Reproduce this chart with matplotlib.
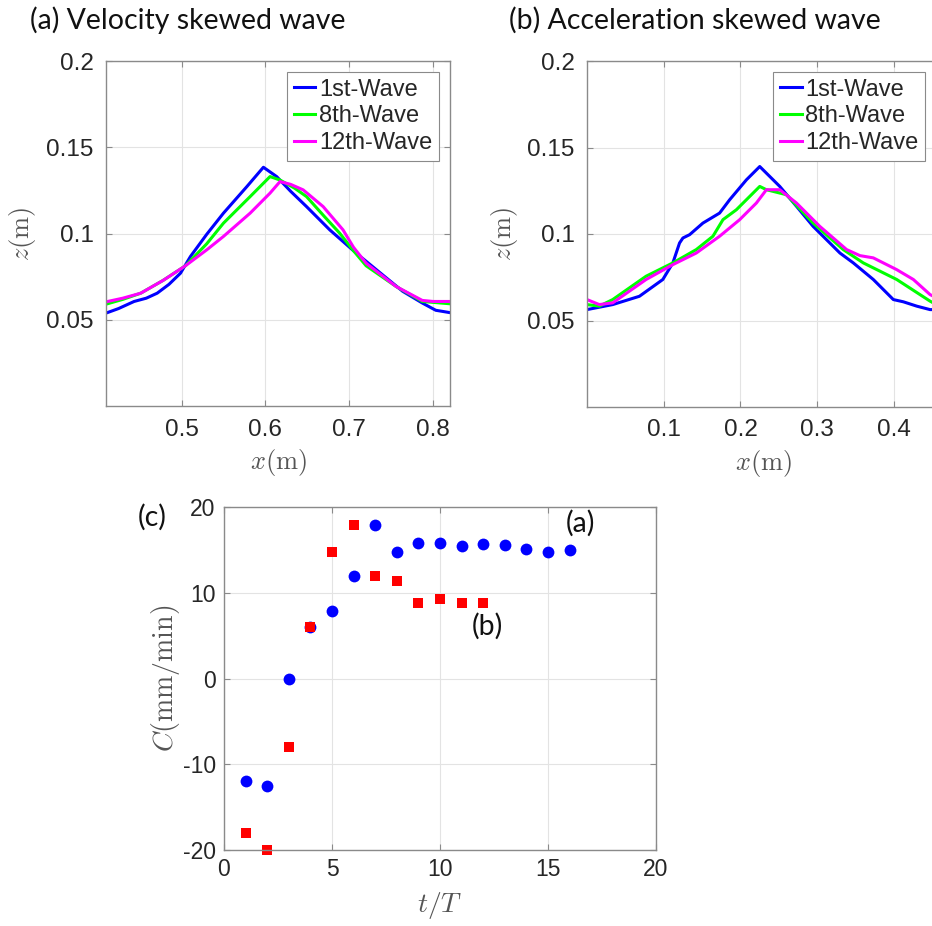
import matplotlib
matplotlib.use("Agg")
import matplotlib.pyplot as plt

plt.rcParams["mathtext.fontset"] = "cm"
plt.rcParams["axes.unicode_minus"] = False

# ---------------------------------------------------------------
# Data
# ---------------------------------------------------------------
labels = ["1st-Wave", "8th-Wave", "12th-Wave"]
colors = ["#0000ff", "#00ff00", "#ff00ff"]

# (a) velocity skewed wave
va_x1 = [0.412, 0.425, 0.4435, 0.458, 0.471, 0.485, 0.4988, 0.5107, 0.530,
         0.550, 0.5779, 0.5976, 0.6134, 0.630, 0.649, 0.6767, 0.7083, 0.736,
         0.7636, 0.787, 0.803, 0.819]
va_z1 = [0.0542, 0.0565, 0.0606, 0.0625, 0.0654, 0.0705, 0.077, 0.0867, 0.0995,
         0.1118, 0.1272, 0.1384, 0.133, 0.1245, 0.1156, 0.1021, 0.0886, 0.0775,
         0.0665, 0.0597, 0.0555, 0.0542]
va_x8 = [0.412, 0.430, 0.4514, 0.478, 0.5047, 0.530, 0.550, 0.5818, 0.6055,
         0.6174, 0.635, 0.649, 0.670, 0.6885, 0.705, 0.720, 0.7557, 0.787, 0.819]
va_z8 = [0.0593, 0.0618, 0.0654, 0.0728, 0.0813, 0.094, 0.106, 0.1214, 0.133,
         0.131, 0.1262, 0.1214, 0.110, 0.1002, 0.090, 0.0813, 0.0693, 0.0606,
         0.0593]
va_x12 = [0.412, 0.430, 0.4514, 0.478, 0.5047, 0.530, 0.550, 0.5818, 0.6055,
          0.6174, 0.630, 0.645, 0.6688, 0.6925, 0.705, 0.720, 0.7557, 0.787,
          0.800, 0.819]
va_z12 = [0.0606, 0.0625, 0.0654, 0.0728, 0.0813, 0.0905, 0.0983, 0.1118, 0.1234,
          0.1301, 0.1285, 0.1253, 0.1156, 0.1021, 0.092, 0.0828, 0.0693, 0.0612,
          0.0606, 0.0606]

# (b) acceleration skewed wave
ac_x1 = [0.0, 0.0335, 0.0683, 0.0988, 0.1119, 0.1206, 0.125, 0.1337, 0.151,
         0.1728, 0.1859, 0.2077, 0.2251, 0.2512, 0.273, 0.2947, 0.3296, 0.347,
         0.3731, 0.3992, 0.4123, 0.4297, 0.447, 0.46]
ac_z1 = [0.0563, 0.0592, 0.064, 0.0737, 0.0833, 0.0948, 0.0977, 0.0996, 0.1063,
         0.1121, 0.1198, 0.1313, 0.139, 0.1275, 0.116, 0.1044, 0.089, 0.0833,
         0.0737, 0.0621, 0.0608, 0.0583, 0.0563, 0.0563]
ac_x8 = [0.0, 0.016, 0.0335, 0.077, 0.1119, 0.1424, 0.1641, 0.1772, 0.1946,
         0.212, 0.2251, 0.2338, 0.2599, 0.2947, 0.3339, 0.36, 0.4036, 0.447, 0.46]
ac_z8 = [0.0592, 0.0583, 0.0621, 0.0756, 0.0833, 0.091, 0.0987, 0.1083, 0.114,
         0.1217, 0.1275, 0.1256, 0.1227, 0.1063, 0.091, 0.0833, 0.0737, 0.0612,
         0.058]
ac_x12 = [0.0, 0.016, 0.0335, 0.077, 0.1119, 0.1424, 0.1728, 0.199, 0.2207,
          0.2338, 0.2512, 0.273, 0.3034, 0.3383, 0.3557, 0.3731, 0.4036, 0.4253,
          0.447, 0.46]
ac_z12 = [0.0621, 0.0592, 0.0602, 0.0737, 0.0823, 0.089, 0.0987, 0.1083, 0.1179,
          0.1256, 0.1256, 0.1179, 0.1044, 0.091, 0.0875, 0.0862, 0.0794, 0.0737,
          0.065, 0.062]

# (c) migration rate vs wave number
t_a = [1, 2, 3, 4, 5, 6, 7, 8, 9, 10, 11, 12, 13, 14, 15, 16]
c_a = [-12.0, -12.5, 0.0, 6.0, 7.9, 11.9, 17.9, 14.8, 15.8, 15.8, 15.4, 15.7,
       15.6, 15.1, 14.8, 15.0]
t_b = [1, 2, 3, 4, 5, 6, 7, 8, 9, 10, 11, 12]
c_b = [-18.0, -20.0, -8.0, 6.0, 14.8, 17.9, 11.9, 11.4, 8.8, 9.3, 8.8, 8.8]

W, H = 932, 926
TICK = ["Liberation Sans", "DejaVu Sans"]
CAL = ["Lato", "DejaVu Sans"]
GREY = "#262626"


def style_axes(ax, size, pad):
    ax.grid(True, color="#e3e3e3", linewidth=0.8)
    ax.set_axisbelow(True)
    for s in ax.spines.values():
        s.set_color("#8a8a8a")
        s.set_linewidth(1.0)
    ax.tick_params(direction="in", length=4, width=0.8, color="#8a8a8a",
                   top=True, right=True, labelsize=size, labelcolor=GREY,
                   pad=pad)
    for lab in ax.get_xticklabels() + ax.get_yticklabels():
        lab.set_family(TICK)


def wave_panel(ax, series, xlim, xticks, axh):
    for (x, z), lab, col in zip(series, labels, colors):
        ax.plot(x, z, color=col, linewidth=2.2, label=lab)
    ax.set_xlim(*xlim)
    ax.set_ylim(0.0, 0.2)
    ax.set_xticks(xticks)
    ax.set_yticks([0.05, 0.1, 0.15, 0.2])
    ax.set_xticklabels([f"{v:g}" for v in xticks])
    ax.set_yticklabels(["0.05", "0.1", "0.15", "0.2"])
    style_axes(ax, 17.5, 9)
    ax.set_xlabel(r"$x(\mathrm{m})$", fontsize=19, color="#555555")
    ax.set_ylabel(r"$z(\mathrm{m})$", fontsize=19, color="#555555")
    ax.xaxis.set_label_coords(0.5, -41 / axh)
    leg = ax.legend(loc="upper right", fontsize=17, handlelength=0.9,
                    handletextpad=0.15, borderpad=0.3, labelspacing=0.2,
                    fancybox=False, framealpha=1, borderaxespad=0.45)
    leg.get_frame().set_edgecolor("#8a8a8a")
    leg.get_frame().set_linewidth(0.8)
    for t in leg.get_texts():
        t.set_family(TICK)
        t.set_color(GREY)


fig = plt.figure(figsize=(W / 100, H / 100), dpi=100)

# (a)
ax1 = fig.add_axes([106 / W, 1 - 406 / H, 344 / W, 345 / H])
wave_panel(ax1, [(va_x1, va_z1), (va_x8, va_z8), (va_x12, va_z12)],
           (0.41, 0.82), [0.5, 0.6, 0.7, 0.8], 345)
ax1.yaxis.set_label_coords(-68 / 344, 0.5)

# (b) - right part is cut off in the original
ax2 = fig.add_axes([587 / W, 1 - 407 / H, 353 / W, 346 / H])
wave_panel(ax2, [(ac_x1, ac_z1), (ac_x8, ac_z8), (ac_x12, ac_z12)],
           (0.0, 0.46), [0.1, 0.2, 0.3, 0.4], 346)
ax2.yaxis.set_label_coords(-67 / 353, 0.5)
ax2.get_legend().set_bbox_to_anchor((349 / 353, 1.0))

fig.text(30 / W, 1 - 20 / H, "(a) Velocity skewed wave", family=CAL,
         fontsize=20.5, va="center", ha="left", color="#111111")
fig.text(509 / W, 1 - 20 / H, "(b) Acceleration skewed wave", family=CAL,
         fontsize=20.5, va="center", ha="left", color="#111111")

# (c)
ax3 = fig.add_axes([224 / W, 1 - 850 / H, 432 / W, 343 / H])
ax3.plot(t_a, c_a, "o", color="#0000ff", markersize=8.5, markeredgewidth=0)
ax3.plot(t_b, c_b, "s", color="#ff0000", markersize=6.5, markeredgewidth=0,
         clip_on=False)
ax3.set_xlim(0, 20)
ax3.set_ylim(-20, 20)
ax3.set_xticks([0, 5, 10, 15, 20])
ax3.set_yticks([-20, -10, 0, 10, 20])
style_axes(ax3, 16.5, 6)
ax3.set_xlabel(r"$t/T$", fontsize=20, color="#555555")
ax3.set_ylabel(r"$C(\mathrm{mm/min})$", fontsize=20, color="#555555")
ax3.xaxis.set_label_coords(0.5, -40 / 343)
ax3.yaxis.set_label_coords(-42 / 432, 0.5)
ax3.text(16.5, 18.1, "(a)", family=CAL, fontsize=20.5, ha="center",
         va="center", color="#111111")
ax3.text(12.2, 6.1, "(b)", family=CAL, fontsize=20.5, ha="center",
         va="center", color="#111111")
fig.text(152 / W, 1 - 517 / H, "(c)", family=CAL, fontsize=20.5, ha="center",
         va="center", color="#111111")

fig.savefig("out.png", dpi=100)
